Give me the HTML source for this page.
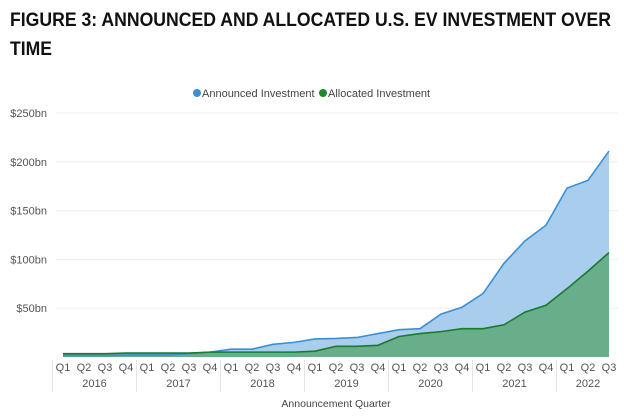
<!DOCTYPE html>
<html><head><meta charset="utf-8"><style>
html,body{margin:0;padding:0;background:#fff;}
svg{display:block;font-family:"Liberation Sans",sans-serif;}
</style></head><body>
<svg id="chart" width="624" height="416" viewBox="0 0 624 416">
<g font-weight="bold" font-size="19" fill="#111">
<text x="10" y="26" textLength="601" lengthAdjust="spacingAndGlyphs">FIGURE 3: ANNOUNCED AND ALLOCATED U.S. EV INVESTMENT OVER</text>
<text x="10" y="55" textLength="42" lengthAdjust="spacingAndGlyphs">TIME</text>
</g>
<g font-size="11" fill="#444">
<circle cx="197" cy="93" r="4" fill="#3a8fd6"/>
<text x="202" y="97">Announced Investment</text>
<circle cx="323" cy="93" r="4" fill="#1a8a2a"/>
<text x="328" y="97">Allocated Investment</text>
</g>
<g id="grid"></g>
<g id="areas"></g>
<g id="xaxis"></g>
<text x="336" y="407" text-anchor="middle" font-size="10.5" fill="#444">Announcement Quarter</text>
</svg>
<script>
const quarters = ["Q1","Q2","Q3","Q4","Q1","Q2","Q3","Q4","Q1","Q2","Q3","Q4","Q1","Q2","Q3","Q4","Q1","Q2","Q3","Q4","Q1","Q2","Q3","Q4","Q1","Q2","Q3"];
const years = ["2016","2017","2018","2019","2020","2021","2022"];
const announced = [1.5,1.5,1.5,2,2,2,3.5,5,8,8,13,15,18.5,19,20,24,28,29,44,51,65,96,119,135,173,181,211];
const allocated = [3.4,3.4,3.4,4,4,4,4,5,5,5,5,5,6,11,11,12,21,24,26,29,29,33,46,53,70,88,107];
const yTicks = [50,100,150,200,250];
const yTickLabels = ["$50bn","$100bn","$150bn","$200bn","$250bn"];
const NS="http://www.w3.org/2000/svg";
const x0=63,x1=609,yBase=357,yTop=113,yMax=250;
function xs(i){return x0+(x1-x0)*i/(quarters.length-1);}
function ys(v){return yBase-(yBase-yTop)*v/yMax;}
function mk(tag,attrs,parent){const e=document.createElementNS(NS,tag);for(const k in attrs)e.setAttribute(k,attrs[k]);parent.appendChild(e);return e;}
const grid=document.getElementById('grid');
yTicks.forEach((t,i)=>{
  const l=mk('line',{x1:56,x2:618,y1:ys(t),y2:ys(t),stroke:'#eeeeee','stroke-width':1},grid);
  
  
  const tx=mk('text',{x:47,y:ys(t)+4,'text-anchor':'end','font-size':11,fill:'#555'},grid);
  tx.textContent=yTickLabels[i];
  
  
});
const areas=document.getElementById('areas');
function areaPath(arr){let d='M'+xs(0)+','+yBase;arr.forEach((v,i)=>{d+=' L'+xs(i)+','+ys(v);});d+=' L'+xs(arr.length-1)+','+yBase+' Z';return d;}
function linePath(arr){return arr.map((v,i)=>(i?'L':'M')+xs(i)+','+ys(v)).join(' ');}
const a1=mk('path',{d:areaPath(announced),fill:'#a9cdec'},areas);


const a2=mk('path',{d:areaPath(allocated),fill:'#68ae8a'},areas);


const l1=mk('path',{d:linePath(announced),fill:'none',stroke:'#3a8fd6','stroke-width':1.6},areas);


const l2=mk('path',{d:linePath(allocated),fill:'none',stroke:'#1a7a28','stroke-width':1.6},areas);


const xa=document.getElementById('xaxis');
quarters.forEach((q,i)=>{
  const t=mk('text',{x:xs(i),y:371,'text-anchor':'middle','font-size':11,fill:'#555'},xa);
  t.textContent=q;
  
  
});
const step=(x1-x0)/(quarters.length-1);
years.forEach((y,k)=>{
  const s=k*4,e=Math.min(k*4+3,quarters.length-1);
  const left=xs(s)-step/2;
  const sep=mk('line',{x1:left,x2:left,y1:360,y2:392,stroke:'#e3e3e3','stroke-width':1},xa);
  
  
  const t=mk('text',{x:(xs(s)+xs(e))/2,y:387,'text-anchor':'middle','font-size':11,fill:'#555'},xa);
  t.textContent=y;
  
  
});
</script>
</body></html>
